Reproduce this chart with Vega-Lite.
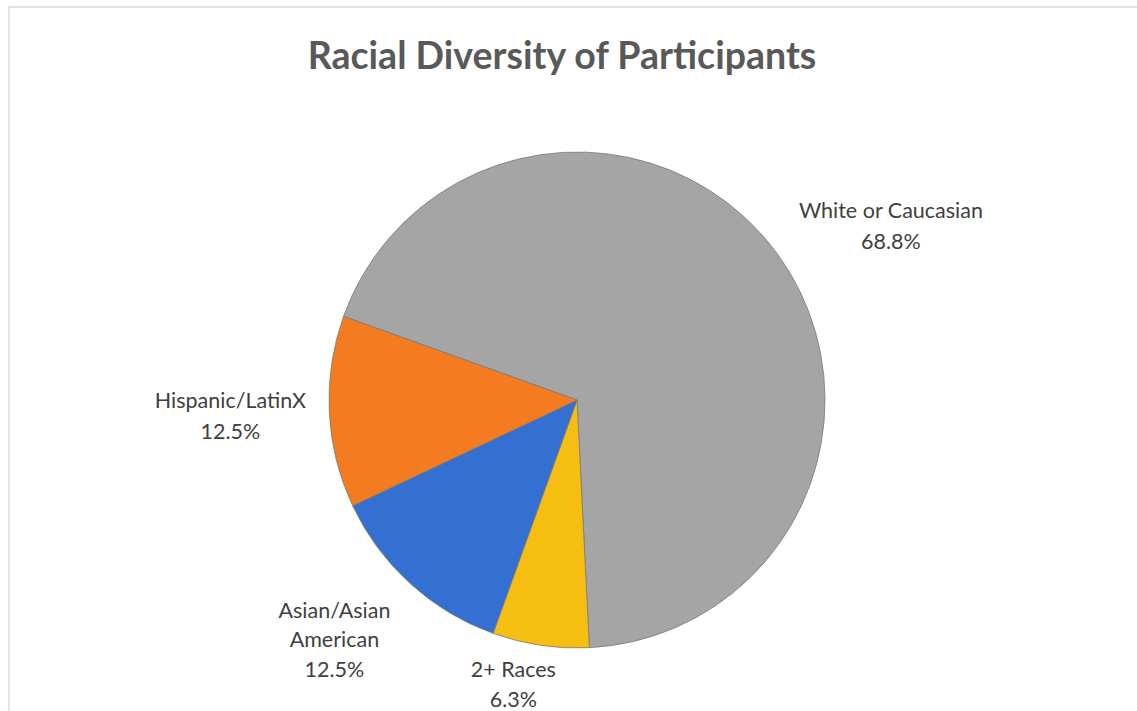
{
  "$schema": "https://vega.github.io/schema/vega-lite/v6.json",
  "width": 1136,
  "height": 786,
  "autosize": {"type": "none"},
  "padding": {"left": 9, "top": 7, "right": -8, "bottom": -82},
  "background": "white",
  "view": {"stroke": "#D9D9D9", "strokeWidth": 1.5, "fill": "white"},
  "title": {
    "text": "Racial Diversity of Participants",
    "font": "Lato",
    "fontSize": 37.5,
    "fontWeight": "bold",
    "color": "#595959",
    "anchor": "middle",
    "frame": "group",
    "offset": -69,
    "dx": -15
  },
  "data": {
    "values": [
      {"race": "White or Caucasian", "pct": 68.8, "order": 1},
      {"race": "2+ Races", "pct": 6.3, "order": 2},
      {"race": "Asian/Asian American", "pct": 12.5, "order": 3},
      {"race": "Hispanic/LatinX", "pct": 12.5, "order": 4}
    ]
  },
  "transform": [
    {"window": [{"op": "sum", "field": "pct", "as": "cum"}], "sort": [{"field": "order"}], "frame": [null, 0]},
    {"calculate": "datum.cum - datum.pct / 2", "as": "mid"},
    {"calculate": "replace(datum.race, 'Asian/Asian ', 'Asian/Asian\\n') + '\\n' + format(datum.pct, '.1f') + '%'", "as": "label"}
  ],
  "layer": [
    {
      "mark": {"type": "arc", "outerRadius": 248, "stroke": "#7a7a7a", "strokeWidth": 0.8},
      "encoding": {
        "theta": {"field": "pct", "type": "quantitative", "stack": true, "scale": {"domain": [0, 100.1], "range": [-1.227, 5.0562]}},
        "color": {
          "field": "race", "type": "nominal", "legend": null,
          "scale": {"domain": ["White or Caucasian", "2+ Races", "Asian/Asian American", "Hispanic/LatinX"], "range": ["#A5A5A5", "#F7BE12", "#3470D2", "#F47B20"]}
        },
        "order": {"field": "order", "type": "quantitative"}
      }
    },
    {
      "transform": [{"filter": "datum.race === 'White or Caucasian'"}],
      "mark": {"type": "text", "radius": 300, "dx": 73, "dy": -9, "font": "Lato", "fontSize": 21.5, "color": "#404040", "lineBreak": "\n", "lineHeight": 31, "align": "center", "baseline": "middle"},
      "encoding": {
        "theta": {"field": "mid", "type": "quantitative", "stack": null, "scale": {"domain": [0, 100.1], "range": [-1.227, 5.0562]}},
        "text": {"field": "label"}
      }
    },
    {
      "transform": [{"filter": "datum.race === 'Hispanic/LatinX'"}],
      "mark": {"type": "text", "radius": 347, "dy": -15, "font": "Lato", "fontSize": 21.5, "color": "#404040", "lineBreak": "\n", "lineHeight": 31, "align": "center", "baseline": "middle"},
      "encoding": {
        "theta": {"field": "mid", "type": "quantitative", "stack": null, "scale": {"domain": [0, 100.1], "range": [-1.227, 5.0562]}},
        "text": {"field": "label"}
      }
    },
    {
      "transform": [{"filter": "datum.race === 'Asian/Asian American'"}],
      "mark": {"type": "text", "radius": 325, "dx": -24, "dy": -29, "font": "Lato", "fontSize": 21.5, "color": "#404040", "lineBreak": "\n", "lineHeight": 29.5, "align": "center", "baseline": "middle"},
      "encoding": {
        "theta": {"field": "mid", "type": "quantitative", "stack": null, "scale": {"domain": [0, 100.1], "range": [-1.227, 5.0562]}},
        "text": {"field": "label"}
      }
    },
    {
      "transform": [{"filter": "datum.race === '2+ Races'"}],
      "mark": {"type": "text", "radius": 290, "dx": -21, "dy": -16, "font": "Lato", "fontSize": 21.5, "color": "#404040", "lineBreak": "\n", "lineHeight": 30, "align": "center", "baseline": "middle"},
      "encoding": {
        "theta": {"field": "mid", "type": "quantitative", "stack": null, "scale": {"domain": [0, 100.1], "range": [-1.227, 5.0562]}},
        "text": {"field": "label"}
      }
    }
  ]
}
